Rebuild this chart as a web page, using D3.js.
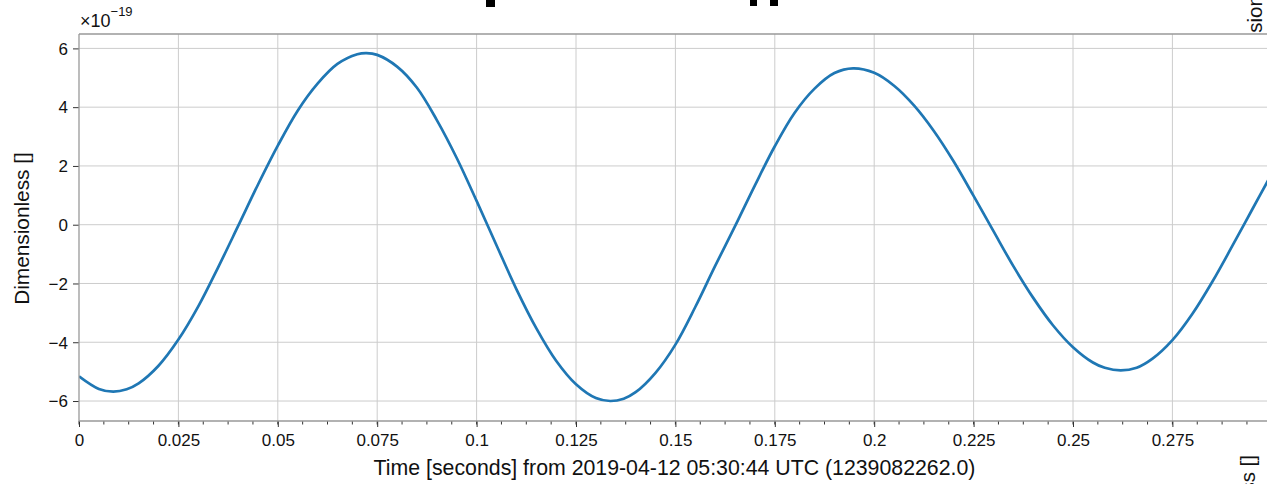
<!DOCTYPE html>
<meta charset="utf-8">
<body style="margin:0;background:#fff">
<script src="https://cdn.jsdelivr.net/npm/d3@7"></script>
<script>

 var times = [0, 0.005, 0.0086, 0.012, 0.015, 0.02, 0.025, 0.03, 0.035, 0.04, 0.045,
              0.05, 0.055, 0.06, 0.065, 0.07, 0.0723, 0.075, 0.08, 0.085, 0.09, 0.095,
              0.1, 0.105, 0.11, 0.115, 0.12, 0.125, 0.13, 0.1336, 0.137, 0.14, 0.145,
              0.15, 0.155, 0.16, 0.165, 0.17, 0.175, 0.18, 0.185, 0.19, 0.1947,
              0.2, 0.205, 0.21, 0.215, 0.22, 0.225, 0.23, 0.235, 0.24, 0.245,
              0.25, 0.255, 0.258, 0.262, 0.266, 0.27, 0.275, 0.28, 0.285, 0.29, 0.295, 0.3];
 var strain = [-5.16, -5.59, -5.68, -5.60, -5.40, -4.80, -3.91, -2.78, -1.45, -0.05, 1.36,
               2.69, 3.88, 4.80, 5.47, 5.80, 5.84, 5.78, 5.38, 4.66, 3.56, 2.27,
               0.81, -0.70, -2.19, -3.52, -4.63, -5.43, -5.90, -6.00, -5.92, -5.70, -5.04,
               -4.08, -2.80, -1.40, -0.05, 1.34, 2.67, 3.81, 4.63, 5.16, 5.32,
               5.17, 4.73, 4.06, 3.19, 2.15, 0.98, -0.22, -1.41, -2.49, -3.43,
               -4.17, -4.69, -4.87, -4.96, -4.87, -4.56, -3.93, -3.04, -1.95, -0.74, 0.50, 1.74];

 var xTicks = [0, 0.025, 0.05, 0.075, 0.1, 0.125, 0.15, 0.175, 0.2, 0.225, 0.25, 0.275];
 var xTickLabels = ['0', '0.025', '0.05', '0.075', '0.1', '0.125', '0.15', '0.175', '0.2', '0.225', '0.25', '0.275'];
 var yTicks = [-6, -4, -2, 0, 2, 4, 6];

 var W = 1267, H = 484;
 var plotL = 79, plotT = 34, plotB = 421;
 var font = 'Liberation Sans, Arial, sans-serif';

 var x = d3.scaleLinear().domain([0, 0.3]).range([plotL, plotL + 0.3 * 3976]);
 var y = d3.scaleLinear().domain([-6.68, 6.49]).range([plotB, plotT]);
 var plotR = x.range()[1];

 var svg = d3.select('body').append('svg')
             .attr('width', W).attr('height', H)
             .attr('font-family', font);

 // labels of the neighbouring panels, mostly hidden behind the axes
 svg.append('text')
    .attr('transform', 'translate(1262,92) rotate(-90)')
    .attr('font-size', 20.5).attr('fill', '#111')
    .text('Dimensionless []');
 svg.append('text')
    .attr('transform', 'translate(1255,455) rotate(-90)')
    .attr('font-size', 20.5).attr('fill', '#111')
    .attr('text-anchor', 'end')
    .text('Dimensionless []');

 // cropped bottom of the big title
 [[486, 9, 7], [750, 7, 6], [770, 8, 6]].forEach(function(r) {
     svg.append('rect').attr('x', r[0]).attr('y', 0)
        .attr('width', r[1]).attr('height', r[2]).attr('fill', '#000');
 });

 svg.append('rect')
    .attr('x', plotL).attr('y', plotT)
    .attr('width', plotR - plotL).attr('height', plotB - plotT)
    .attr('fill', '#fff');

 var grid = svg.append('g').attr('stroke', '#cccccc').attr('stroke-width', 1);
 grid.selectAll('.gx').data(xTicks.slice(1)).enter().append('line')
     .attr('x1', d => x(d)).attr('x2', d => x(d))
     .attr('y1', plotT).attr('y2', plotB);
 grid.selectAll('.gy').data(yTicks).enter().append('line')
     .attr('x1', plotL).attr('x2', plotR)
     .attr('y1', d => y(d)).attr('y2', d => y(d));

 var pts = times.map((t, i) => [t, strain[i]]);
 var line = d3.line()
              .x(d => x(d[0]))
              .y(d => y(d[1]))
              .curve(d3.curveCatmullRom.alpha(0.5));

 svg.append('clipPath').attr('id', 'clip')
    .append('rect').attr('x', plotL).attr('y', plotT)
    .attr('width', plotR - plotL).attr('height', plotB - plotT);

 svg.append('path')
    .datum(pts)
    .attr('clip-path', 'url(#clip)')
    .attr('d', line)
    .attr('fill', 'none')
    .attr('stroke', '#1f77b4')
    .attr('stroke-width', 2.7)
    .attr('stroke-linejoin', 'round');

 // x axis
 var xAxis = d3.axisBottom(x)
               .tickValues(xTicks)
               .tickFormat((d, i) => xTickLabels[i])
               .tickSize(6).tickPadding(5);
 var xMinor = d3.range(0, 0.3, 0.00625);
 var gx = svg.append('g').attr('transform', 'translate(0,' + plotB + ')').call(xAxis);
 svg.append('g').attr('transform', 'translate(0,' + plotB + ')')
    .selectAll('line').data(xMinor).enter().append('line')
    .attr('x1', d => x(d)).attr('x2', d => x(d))
    .attr('y1', 0).attr('y2', 3.5)
    .attr('stroke', '#333').attr('stroke-width', 1);

 var yAxis = d3.axisLeft(y)
               .tickValues(yTicks)
               .tickFormat(d => d < 0 ? '\u2212' + Math.abs(d) : d)
               .tickSize(6).tickPadding(5);
 var gy = svg.append('g').attr('transform', 'translate(' + plotL + ',0)').call(yAxis);

 [gx, gy].forEach(function(g) {
     g.select('.domain').remove();
     g.selectAll('.tick line').attr('stroke', '#333').attr('stroke-width', 1);
     g.selectAll('.tick text').attr('font-size', 17).attr('fill', '#111')
      .attr('font-family', font);
 });
 gx.selectAll('.tick text').attr('dy', '0.8em');
 gy.selectAll('.tick text').attr('dy', '0.34em');

 // frame
 var frame = svg.append('g').attr('stroke', '#999').attr('stroke-width', 1.3).attr('fill', 'none');
 frame.append('line').attr('x1', plotL).attr('x2', plotL).attr('y1', plotT).attr('y2', plotB);
 frame.append('line').attr('x1', plotL).attr('x2', plotR).attr('y1', plotT).attr('y2', plotT);
 frame.append('line').attr('x1', plotL).attr('x2', plotR).attr('y1', plotB).attr('y2', plotB);

 // offset text
 var off = svg.append('text').attr('x', 80).attr('y', 27)
              .attr('font-size', 18).attr('fill', '#111');
 off.append('tspan').text('\u00d710');
 off.append('tspan').attr('dy', -11).attr('font-size', 13).text('\u221219');

 svg.append('text')
    .attr('x', (373 + 976) / 2).attr('y', 475)
    .attr('text-anchor', 'middle')
    .attr('font-size', 21.3).attr('fill', '#111')
    .text('Time [seconds] from 2019-04-12 05:30:44 UTC (1239082262.0)');

 svg.append('text')
    .attr('transform', 'translate(29,' + ((152 + 305) / 2) + ') rotate(-90)')
    .attr('text-anchor', 'middle')
    .attr('font-size', 20.8).attr('fill', '#111')
    .text('Dimensionless []');

</script>
